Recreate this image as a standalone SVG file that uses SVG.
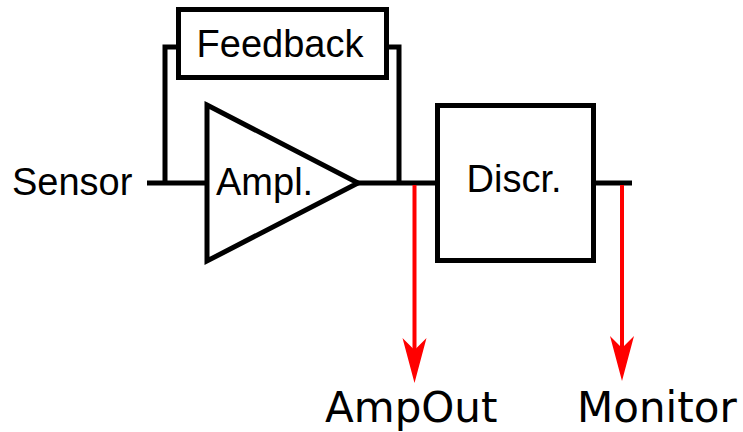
<svg xmlns="http://www.w3.org/2000/svg" width="743" height="432" viewBox="0 0 743 432">
<style>
.blk{fill:none;stroke:#000;stroke-width:5;stroke-linejoin:miter}
.box{fill:#fff;stroke:#000;stroke-width:5}
.wire{fill:none;stroke:#000;stroke-width:5}
.red{fill:none;stroke:#f00;stroke-width:4}
.lbl{font-family:"Liberation Sans",Arial,sans-serif;font-size:38px;fill:#000}
.out{font-family:"DejaVu Sans",sans-serif;font-size:42px;fill:#000}
</style>
<defs>
<path id="ah" d="M0,0 L-12,-45 L0,-33 L12,-45 Z" fill="#f00"/>
</defs>
<g id="connectors">
<path class="wire" d="M147,183 H207"/>
<path class="wire" d="M165,183 V47 H178"/>
<path class="wire" d="M386,47 H399 V183"/>
<path class="wire" d="M358,183 H437"/>
<path class="wire" d="M593,183 H632"/>
<path class="red" d="M414.5,185 V352"/>
<use href="#ah" x="414.5" y="383"/>
<path class="red" d="M622,185 V350"/>
<use href="#ah" x="622" y="381"/>
</g>
<g id="feedback">
<rect class="box" x="178.5" y="9.5" width="208" height="68"/>
<text class="lbl" x="280" y="57" text-anchor="middle">Feedback</text>
</g>
<g id="ampl">
<path class="box" d="M207,105 L358,183 L207,261 Z"/>
<text class="lbl" x="216" y="195">Ampl.</text>
</g>
<g id="discr">
<rect class="box" x="437.5" y="105.5" width="156" height="155"/>
<text class="lbl" x="514" y="192" text-anchor="middle">Discr.</text>
</g>
<g id="sensor">
<text class="lbl" x="12" y="195">Sensor</text>
</g>
<g id="ampout">
<text class="out" x="325" y="422">AmpOut</text>
</g>
<g id="monitor">
<text class="out" x="577" y="422">Monitor</text>
</g>
</svg>
